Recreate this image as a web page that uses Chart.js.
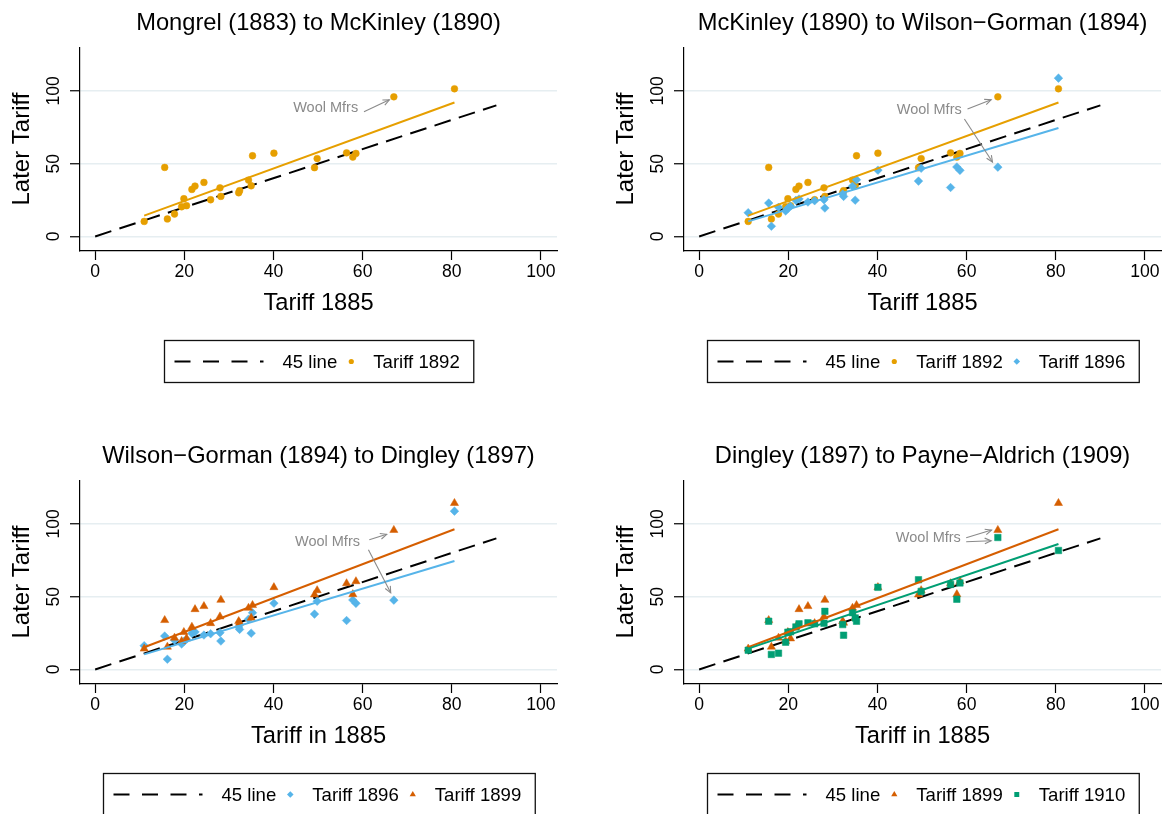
<!DOCTYPE html>
<html><head><meta charset="utf-8">
<script src="https://cdn.jsdelivr.net/npm/chart.js@4.4.1/dist/chart.umd.min.js"></script>
<style>
html,body{margin:0;padding:0;background:#fff;width:1162px;height:814px;overflow:hidden;position:relative}
canvas{position:absolute}
</style></head><body>
<canvas id="c0" width="604" height="433" style="left:0;top:0"></canvas>
<canvas id="c1" width="604" height="433" style="left:604px;top:0"></canvas>
<canvas id="c2" width="604" height="433" style="left:0;top:433px"></canvas>
<canvas id="c3" width="604" height="433" style="left:604px;top:433px"></canvas>
<script>
// ---------- data ----------
const tariff1885 = [11.0, 15.6, 16.2, 17.8, 19.4, 19.9, 20.5, 21.7, 22.4, 24.4, 25.9, 28.0, 28.2, 32.2, 32.4, 34.4, 35.0, 35.3, 40.1, 49.2, 49.8, 56.4, 57.8, 58.5, 67.0, 80.6];
const tariff1892 = [10.3, 47.4, 12.0, 15.4, 20.4, 25.9, 21.1, 32.3, 34.6, 37.1, 25.2, 33.4, 27.5, 30.0, 31.4, 38.7, 34.8, 55.4, 57.2, 47.2, 53.5, 57.4, 54.5, 57.0, 95.9, 101.4];
const tariff1896 = [16.3, 22.9, 7.0, 20.0, 17.5, 19.3, 20.7, 24.8, 25.7, 23.6, 24.5, 25.2, 19.5, 29.1, 27.5, 34.5, 24.9, 38.9, 45.5, 38.0, 46.8, 33.6, 47.7, 45.4, 47.6, 108.7];
const tariff1899 = [14.2, 33.8, 15.5, 21.7, 19.4, 25.6, 21.2, 29.2, 41.3, 43.4, 31.7, 36.3, 47.7, 33.1, 32.0, 42.2, 35.4, 44.1, 56.4, 51.4, 54.3, 59.1, 51.6, 60.5, 95.7, 114.2];
const tariff1910 = [13.2, 33.1, 10.3, 11.2, 18.7, 25.6, 25.8, 29.2, 31.3, 32.0, 31.3, 31.7, 39.9, 30.8, 23.5, 39.0, 35.4, 33.1, 56.4, 61.6, 53.6, 58.4, 48.2, 59.4, 90.6, 81.7];
const line45 = [0, 90];
const xTicks = [0, 20, 40, 60, 80, 100];
const yTicks = [0, 50, 100];
const panelTitles = ['Mongrel (1883) to McKinley (1890)', 'McKinley (1890) to Wilson\u2212Gorman (1894)', 'Wilson\u2212Gorman (1894) to Dingley (1897)', 'Dingley (1897) to Payne\u2212Aldrich (1909)'];
const xTitles = ['Tariff 1885', 'Tariff 1885', 'Tariff in 1885', 'Tariff in 1885'];
const yTitle = 'Later Tariff';
const label45 = '45 line';
const woolLabel = 'Wool Mfrs';

// ---------- styles ----------
const FONT = '"Liberation Sans", Arial, Helvetica, sans-serif';
Chart.defaults.font.family = FONT;
const SER = {
  '1892': {label: 'Tariff 1892', data: tariff1892, color: '#E69F00', style: 'circle', r: 3.4, lr: 2.6},
  '1896': {label: 'Tariff 1896', data: tariff1896, color: '#56B4E9', style: 'rectRot', r: 4.3, lr: 3.3},
  '1899': {label: 'Tariff 1899', data: tariff1899, color: '#D55E00', style: 'triangle', r: 4.7, lr: 3.6},
  '1910': {label: 'Tariff 1910', data: tariff1910, color: '#009E73', style: 'rect', r: 4.6, lr: 3.5}
};
const panels = [
  {series: ['1892'], anno: {text: [59.0, 87.9], arrows: [[60.3, 85.6, 66.0, 93.8]]}},
  {series: ['1892', '1896'], anno: {text: [58.9, 87.0], arrows: [[60.2, 87.5, 65.5, 93.9], [59.5, 80.6, 65.8, 51.1]]}},
  {series: ['1896', '1899'], anno: {text: [59.4, 87.7], arrows: [[61.5, 89.0, 65.4, 92.8], [61.3, 82.2, 66.3, 52.6]]}},
  {series: ['1899', '1910'], anno: {text: [58.7, 90.0], arrows: [[59.9, 90.4, 65.6, 95.7], [59.9, 87.7, 65.5, 88.4]]}}
];

function olsLine(xs, ys) {
  const n = xs.length;
  const mx = xs.reduce((a, b) => a + b, 0) / n;
  const my = ys.reduce((a, b) => a + b, 0) / n;
  let sxy = 0, sxx = 0;
  for (let i = 0; i < n; i++) { sxy += (xs[i] - mx) * (ys[i] - my); sxx += (xs[i] - mx) ** 2; }
  const b = sxy / sxx, a = my - b * mx;
  const x0 = Math.min(...xs), x1 = Math.max(...xs);
  return [{x: x0, y: a + b * x0}, {x: x1, y: a + b * x1}];
}

const annoPlugin = {
  id: 'anno',
  afterDatasetsDraw(chart, args, opts) {
    const a = opts.cfg; if (!a) return;
    const {ctx, scales: {x, y}} = chart;
    ctx.save();
    ctx.fillStyle = '#8a8a8a'; ctx.strokeStyle = '#8a8a8a';
    ctx.font = '14.5px ' + FONT; ctx.textAlign = 'right'; ctx.textBaseline = 'middle';
    ctx.fillText(woolLabel, x.getPixelForValue(a.text[0]), y.getPixelForValue(a.text[1]));
    ctx.lineWidth = 1.1;
    for (const ar of a.arrows) {
      const x0 = x.getPixelForValue(ar[0]), y0 = y.getPixelForValue(ar[1]);
      const x1 = x.getPixelForValue(ar[2]), y1 = y.getPixelForValue(ar[3]);
      const ang = Math.atan2(y1 - y0, x1 - x0);
      ctx.beginPath(); ctx.moveTo(x0, y0); ctx.lineTo(x1, y1); ctx.stroke();
      const L = 7, w = 0.42;
      ctx.beginPath();
      ctx.moveTo(x1 - L * Math.cos(ang - w), y1 - L * Math.sin(ang - w));
      ctx.lineTo(x1, y1);
      ctx.lineTo(x1 - L * Math.cos(ang + w), y1 - L * Math.sin(ang + w));
      ctx.stroke();
    }
    ctx.restore();
  }
};

const legendPlugin = {
  id: 'boxLegend',
  afterDraw(chart, args, opts) {
    const keys = opts.keys; if (!keys) return;
    const {ctx, chartArea} = chart;
    ctx.save();
    ctx.font = '18.6px ' + FONT;
    const padL = 10, padR = 14, sample = 89, gapS = 19, gapM = 14, gapT = 22, H = 42;
    let w = padL + sample + gapS + ctx.measureText(label45).width;
    for (const k of keys) w += gapM + gapT + ctx.measureText(SER[k].label).width;
    w += padR;
    const cx = (chartArea.left + chartArea.right) / 2;
    const left = Math.round(cx - w / 2) + 0.5, top = 340.5;
    ctx.strokeStyle = '#111'; ctx.lineWidth = 1.3;
    ctx.strokeRect(left, top, w, H);
    const cy = top + H / 2;
    let px = left + padL;
    ctx.beginPath(); ctx.setLineDash([16, 12.5]); ctx.lineWidth = 2; ctx.strokeStyle = '#000';
    ctx.moveTo(px, cy); ctx.lineTo(px + sample, cy); ctx.stroke(); ctx.setLineDash([]);
    px += sample + gapS;
    ctx.fillStyle = '#000'; ctx.textAlign = 'left'; ctx.textBaseline = 'middle';
    ctx.fillText(label45, px, cy + 1);
    px += ctx.measureText(label45).width;
    for (const k of keys) {
      const s = SER[k];
      px += gapM;
      ctx.fillStyle = s.color;
      Chart.helpers.drawPoint(ctx, {pointStyle: s.style, radius: s.lr, borderWidth: 0, rotation: 0}, px, cy);
      px += gapT;
      ctx.fillStyle = '#000';
      ctx.fillText(s.label, px, cy + 1);
      px += ctx.measureText(s.label).width;
    }
    ctx.restore();
  }
};

panels.forEach((p, idx) => {
  const datasets = [];
  datasets.push({
    label: label45, data: line45.map(v => ({x: v, y: v})), showLine: true,
    borderColor: '#000', borderWidth: 2, borderDash: [17, 8.5], pointRadius: 0, order: 100
  });
  p.series.forEach((k, j) => {
    const s = SER[k];
    datasets.push({
      label: s.label, data: tariff1885.map((x, i) => ({x, y: s.data[i]})),
      pointStyle: s.style, pointRadius: s.r, pointHoverRadius: s.r,
      backgroundColor: s.color, borderColor: s.color, borderWidth: 0.5, order: 50 - j
    });
  });
  p.series.forEach((k, j) => {
    const s = SER[k];
    datasets.push({
      label: s.label + ' fit', data: olsLine(tariff1885, s.data), showLine: true,
      borderColor: s.color, borderWidth: 2, pointRadius: 0, order: 10 - j
    });
  });
  new Chart(document.getElementById('c' + idx), {
    type: 'scatter',
    data: {datasets},
    plugins: [annoPlugin, legendPlugin],
    options: {
      responsive: false, animation: false, devicePixelRatio: 1,
      layout: {padding: {left: 0, top: 0, right: 47, bottom: 112}},
      plugins: {
        legend: {display: false}, tooltip: {enabled: false},
        title: {display: true, text: panelTitles[idx], fullSize: false, color: '#000',
                font: {size: 23.7, weight: 'normal'}, padding: {top: 9.2, bottom: 9.5}},
        anno: {cfg: p.anno},
        boxLegend: {keys: p.series}
      },
      scales: {
        x: {
          type: 'linear', min: -3.4, max: 103.6,
          afterBuildTicks: s => { s.ticks = xTicks.map(v => ({value: v})); },
          afterFit: s => { s.height = 70; },
          grid: {drawOnChartArea: false, drawTicks: true, tickLength: 9, tickColor: '#000', tickWidth: 1.2},
          border: {display: true, color: '#000', width: 1.2},
          ticks: {padding: 1.5, color: '#000', font: {size: 17.6}, maxRotation: 0, autoSkip: false},
          title: {display: true, text: xTitles[idx], color: '#000', font: {size: 23.7}, padding: {top: 0, bottom: 3.2}}
        },
        y: {
          type: 'linear', min: -10, max: 130,
          afterBuildTicks: s => { s.ticks = yTicks.map(v => ({value: v})); },
          afterFit: s => { s.width = 80; },
          grid: {color: '#e6eef1', lineWidth: 1.5, drawTicks: true, tickLength: 10, tickColor: '#000', tickWidth: 1.2},
          border: {display: true, color: '#000', width: 1.2},
          ticks: {minRotation: 90, maxRotation: 90, crossAlign: 'center', padding: 1.5, color: '#000', font: {size: 17.6}, autoSkip: false},
          title: {display: true, text: yTitle, color: '#000', font: {size: 24}, padding: {top: 7.5, bottom: 0}}
        }
      }
    }
  });
});
</script>
</body></html>
